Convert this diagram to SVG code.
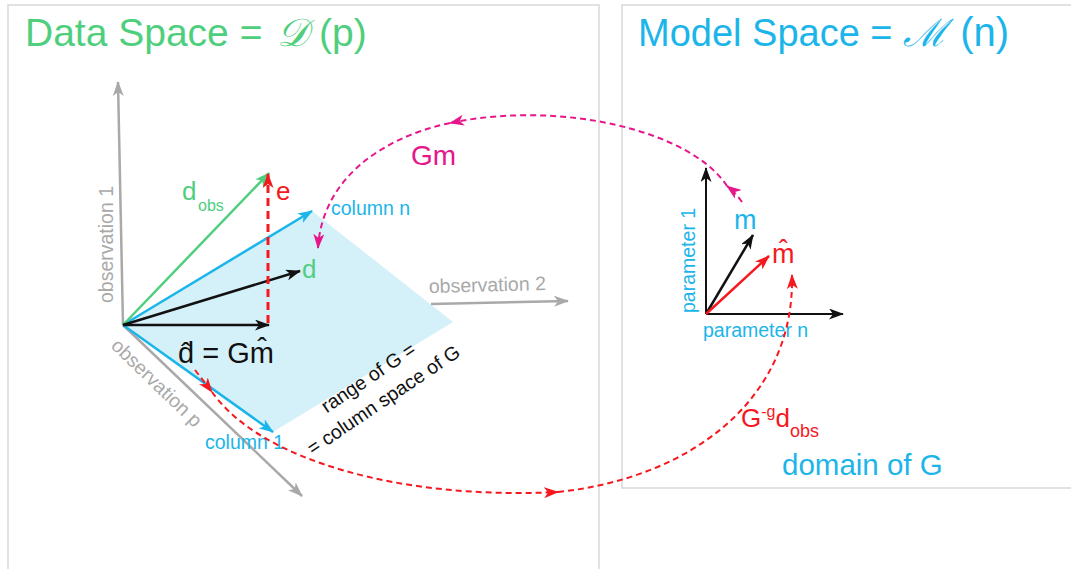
<svg xmlns="http://www.w3.org/2000/svg" width="1071" height="569" viewBox="0 0 1071 569">
<style>
text{font-family:"Liberation Sans",Arial,sans-serif}
.frame{fill:none;stroke:#d9d9d9;stroke-width:1.5}
.ax{stroke:#a9a9a9;stroke-width:2.5;fill:none}
.axl{fill:#a9a9a9;font-size:19.5px}
.blue{fill:#1bb5ea}
.green{fill:#4fcf7e}
.red{fill:#f5181e}
.mag{fill:#e6168b}
.blk{fill:#111}
.big{font-size:26px}
.sm{font-size:19.5px}
.scr{font-family:"DejaVu Serif","Liberation Serif",serif;font-style:italic}
.dr{stroke:#f5181e;stroke-width:2;fill:none;stroke-dasharray:6 4}
.dm{stroke:#e6168b;stroke-width:2;fill:none;stroke-dasharray:6 4}
</style>
<defs>
<marker id="aGray" viewBox="0 0 15 11" refX="14" refY="5.5" markerWidth="15" markerHeight="11" markerUnits="userSpaceOnUse" orient="auto"><path d="M0,0 L15,5.5 L0,11 L4,5.5 z" fill="#a9a9a9"/></marker>
<marker id="aGreen" viewBox="0 0 15 11" refX="14" refY="5.5" markerWidth="15" markerHeight="11" markerUnits="userSpaceOnUse" orient="auto"><path d="M0,0 L15,5.5 L0,11 L4,5.5 z" fill="#4fcf7e"/></marker>
<marker id="aBlue" viewBox="0 0 15 11" refX="14" refY="5.5" markerWidth="15" markerHeight="11" markerUnits="userSpaceOnUse" orient="auto"><path d="M0,0 L15,5.5 L0,11 L4,5.5 z" fill="#1bb5ea"/></marker>
<marker id="aBlack" viewBox="0 0 15 11" refX="14" refY="5.5" markerWidth="15" markerHeight="11" markerUnits="userSpaceOnUse" orient="auto"><path d="M0,0 L15,5.5 L0,11 L4,5.5 z" fill="#111"/></marker>
<marker id="aRed" viewBox="0 0 15 11" refX="14" refY="5.5" markerWidth="15" markerHeight="11" markerUnits="userSpaceOnUse" orient="auto"><path d="M0,0 L15,5.5 L0,11 L4,5.5 z" fill="#f5181e"/></marker>
<marker id="aMag" viewBox="0 0 15 11" refX="14" refY="5.5" markerWidth="15" markerHeight="11" markerUnits="userSpaceOnUse" orient="auto"><path d="M0,0 L15,5.5 L0,11 L4,5.5 z" fill="#e6168b"/></marker>
</defs>

<g id="data-space">
<path class="frame" d="M8,569 V5 H599 V569"/>
<text class="green" x="25" y="46" font-size="39">Data Space = <tspan class="scr" dx="4">𝒟</tspan><tspan> (p)</tspan></text>
</g>

<g id="model-space">
<path class="frame" d="M1071,488 H622 V5 H1071"/>
<text class="blue" x="638" y="46" font-size="38">Model Space = <tspan class="scr">ℳ</tspan><tspan dx="2" font-size="40"> (n)</tspan></text>
</g>

<g id="range-plane">
<polygon points="123,325 312,211 453,322 273,432" fill="#d4f0f9"/>
<g transform="translate(372,383) rotate(-34)">
<text class="blk sm" x="0" y="0" text-anchor="middle">range of G =</text>
<text class="blk sm" x="0" y="27" text-anchor="middle">= column space of G</text>
</g>
</g>

<g id="data-axes">
<line class="ax" x1="123" y1="325" x2="118" y2="82" marker-end="url(#aGray)"/>
<line class="ax" x1="431" y1="304" x2="568" y2="301" marker-end="url(#aGray)"/>
<line class="ax" x1="123" y1="325" x2="302" y2="496" marker-end="url(#aGray)"/>
<text class="axl" transform="translate(113,303) rotate(-90)">observation 1</text>
<text class="axl" transform="translate(429,293) rotate(-1.5)">observation 2</text>
<text class="axl" transform="translate(110,347) rotate(44)">observation p</text>
</g>

<g id="data-vectors">
<line x1="123" y1="325" x2="273" y2="432" stroke="#1bb5ea" stroke-width="2.5" marker-end="url(#aBlue)"/>
<line x1="123" y1="325" x2="312" y2="211" stroke="#1bb5ea" stroke-width="2.5" marker-end="url(#aBlue)"/>
<line x1="123" y1="325" x2="269" y2="173" stroke="#4fcf7e" stroke-width="2.5" marker-end="url(#aGreen)"/>
<line x1="123" y1="325" x2="300" y2="271" stroke="#111" stroke-width="2.5" marker-end="url(#aBlack)"/>
<line x1="123" y1="325" x2="269" y2="325" stroke="#111" stroke-width="2.5" marker-end="url(#aBlack)"/>
<line x1="268" y1="323" x2="268" y2="174" stroke="#f5181e" stroke-width="3" stroke-dasharray="8 5" marker-end="url(#aRed)"/>
<text class="green big" x="182" y="200">d</text><text class="green" x="198" y="211" font-size="16">obs</text>
<text class="red big" x="276" y="200">e</text>
<text class="blue sm" x="331" y="215">column n</text>
<text class="green big" x="302" y="278">d</text>
<text class="blk" x="178" y="363" font-size="29">d̂ = Gm̂</text>
<text class="blue sm" x="205" y="449">column 1</text>
</g>

<g id="model-axes">
<line x1="706" y1="314" x2="706" y2="168" stroke="#111" stroke-width="2" marker-end="url(#aBlack)"/>
<line x1="706" y1="314" x2="843" y2="314" stroke="#111" stroke-width="2" marker-end="url(#aBlack)"/>
<line x1="706" y1="314" x2="753" y2="235" stroke="#111" stroke-width="2.5" marker-end="url(#aBlack)"/>
<line x1="706" y1="314" x2="769" y2="256" stroke="#f5181e" stroke-width="2.5" marker-end="url(#aRed)"/>
<text class="blue sm" transform="translate(695,313) rotate(-90)">parameter 1</text>
<text class="blue sm" x="703" y="337">parameter n</text>
<text class="blue" x="734" y="229" font-size="27">m</text>
<text class="red" x="772" y="263" font-size="27">m̂</text>
<text class="red" x="741" y="427" font-size="26">G<tspan font-size="16" dy="-10">-g</tspan><tspan dy="10">d</tspan><tspan font-size="18" dy="10">obs</tspan></text>
<text class="blue" x="782" y="475" font-size="29.5">domain of G</text>
</g>

<g id="connectors">
<path class="dm" d="M742,202 Q735,192 727,186" marker-end="url(#aMag)"/>
<path class="dm" d="M727,186 C690,130 560,100 450,123" marker-end="url(#aMag)"/>
<path class="dm" d="M450,123 C380,138 322,180 318,248" marker-end="url(#aMag)"/>
<text class="mag" x="411" y="165" font-size="28">Gm</text>
<path class="dr" d="M195,370 L212,392" marker-end="url(#aRed)"/>
<path class="dr" d="M212,392 C260,460 400,500 558,492" marker-end="url(#aRed)"/>
<path class="dr" d="M558,492 C690,478 795,400 792,275" marker-end="url(#aRed)"/>
</g>
</svg>
